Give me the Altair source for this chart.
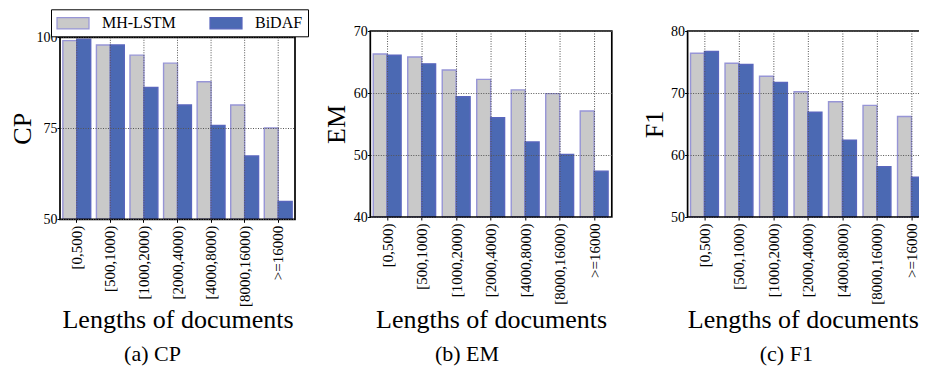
import altair as alt
import pandas as pd

categories = ["[0,500)", "[500,1000)", "[1000,2000)", "[2000,4000)",
              "[4000,8000)", "[8000,16000)", ">=16000"]
models = ["MH-LSTM", "BiDAF"]

cp_mh = [99.1, 97.9, 95.1, 92.9, 87.8, 81.4, 75.1]
cp_bidaf = [99.5, 97.9, 86.2, 81.4, 75.8, 67.4, 54.9]
em_mh = [66.3, 65.8, 63.7, 62.2, 60.5, 59.9, 57.1]
em_bidaf = [66.1, 64.7, 59.4, 56.0, 52.1, 50.1, 47.4]
f1_mh = [76.4, 74.8, 72.7, 70.2, 68.6, 68.0, 66.2]
f1_bidaf = [76.7, 74.6, 71.7, 66.9, 62.4, 58.1, 56.4]

cp_ticks = [50, 75, 100]
em_ticks = [40, 50, 60, 70]
f1_ticks = [50, 60, 70, 80]

SERIF = "Liberation Serif, Times New Roman, Times, serif"
GRAY = "#c9c9c9"
BLUE = "#4b69b3"
LAV = "#9795d6"
LAV2 = "#5866bd"
GRIDC = "#555555"


def panel(mh, bd, metric, caption, ticks, width, height, top_gap,
          title_x, title_y_base, xtitle_shift, legend_x, legend_y, cap_dx):
    lo, hi = ticks[0], ticks[-1]
    df = pd.DataFrame({
        "length": categories * 2,
        "model": [models[0]] * len(categories) + [models[1]] * len(categories),
        "value": mh + bd,
    })
    leg = alt.Legend(
        orient="none", legendX=legend_x, legendY=legend_y, direction="horizontal",
        title=None, strokeColor="black", fillColor="white", padding=5,
        cornerRadius=0, symbolType="M-1,-0.7L3,-0.7L3,0.7L-1,0.7Z",
        symbolSize=256, symbolStrokeWidth=1.2, labelFont=SERIF, labelFontSize=16,
        labelColor="black", labelOffset=28, columnPadding=31, zindex=2,
    )
    xax = alt.Axis(
        title="Lengths of documents", labelAngle=270, grid=False, domain=False,
        ticks=True, tickSize=3, tickColor="black", labelPadding=3,
        labelFont=SERIF, labelFontSize=15, labelColor="black",
        titleFont=SERIF, titleFontSize=26, titleFontWeight="normal",
        titleColor="black", titleBaseline="alphabetic", titleY=title_y_base,
        titleX=width / 2 + xtitle_shift, titleAlign="center",
        labelOverlap=False,
    )
    yax = alt.Axis(
        values=ticks, title=metric, grid=True, gridColor=GRIDC, gridDash=[1, 1.5],
        gridWidth=1, domain=False, ticks=True, tickSize=3, tickColor="black",
        labelPadding=0, labelFont=SERIF, labelFontSize=14, labelColor="black",
        labelFlush=False, labelOverlap=False,
        titleFont=SERIF, titleFontSize=26, titleFontWeight="normal",
        titleColor="black", titleAngle=270, titleX=title_x,
        titleY=(top_gap + height) / 2, titleAlign="center", titleBaseline="middle",
        zindex=1,
    )
    bars = alt.Chart(df).mark_bar(strokeWidth=1.4).encode(
        x=alt.X("length:N", sort=categories,
                scale=alt.Scale(paddingInner=0.17, paddingOuter=0.085), axis=xax),
        xOffset=alt.XOffset("model:N", sort=models,
                            scale=alt.Scale(paddingInner=0, paddingOuter=0)),
        y=alt.Y("value:Q", axis=yax,
                scale=alt.Scale(domain=[lo, hi], range=[height, top_gap],
                                nice=False, zero=False)),
        y2=alt.datum(lo),
        fill=alt.Fill("model:N", sort=models,
                      scale=alt.Scale(domain=models, range=[GRAY, BLUE]), legend=leg),
        stroke=alt.Stroke("model:N", sort=models,
                          scale=alt.Scale(domain=models, range=[LAV, LAV2]), legend=leg),
    )
    grid = alt.Chart(pd.DataFrame({"length": categories})).mark_rule(
        color=GRIDC, strokeDash=[1, 1.5], strokeWidth=1
    ).encode(
        x=alt.X("length:N", sort=categories, bandPosition=0.5),
        y=alt.datum(hi),
        y2=alt.datum(lo),
    )
    frame = alt.Chart(pd.DataFrame({"k": [0]})).mark_rect(
        fill="transparent", stroke="black", strokeWidth=1.7
    ).encode(
        x=alt.value(0), x2=alt.value(width), y=alt.datum(hi), y2=alt.datum(lo)
    )
    return alt.layer(bars, grid, frame).properties(
        width=width, height=height,
        title=alt.TitleParams(
            text=caption, orient="bottom", anchor="middle", dx=cap_dx, offset=12,
            font=SERIF, fontSize=22, fontWeight="normal", color="black",
        ),
    )


p1 = panel(cp_mh, cp_bidaf, "CP", "(a) CP", cp_ticks, 235, 188.3, 6.3,
           -38, 108, 0, -9, -21.7, -25)
p2 = panel(em_mh, em_bidaf, "EM", "(b) EM", em_ticks, 241.5, 186, 0,
           -34, 110, 0, -8.3, -25.7, -24)
p3 = panel(f1_mh, f1_bidaf, "F1", "(c) F1", f1_ticks, 241.5, 186, 0,
           -33, 110, -5.5, -8.1, -25.7, -22)

# the reference figure is cropped on the right: clip the drawing at the page edge
chart = alt.hconcat(p1, p2, p3, spacing=75.3, bounds="flush").properties(
    padding={"left": 0, "top": 0, "right": -12, "bottom": 0}
).configure_view(stroke="transparent")

chart.save("out.html", embed_options={"renderer": "svg", "actions": False})
